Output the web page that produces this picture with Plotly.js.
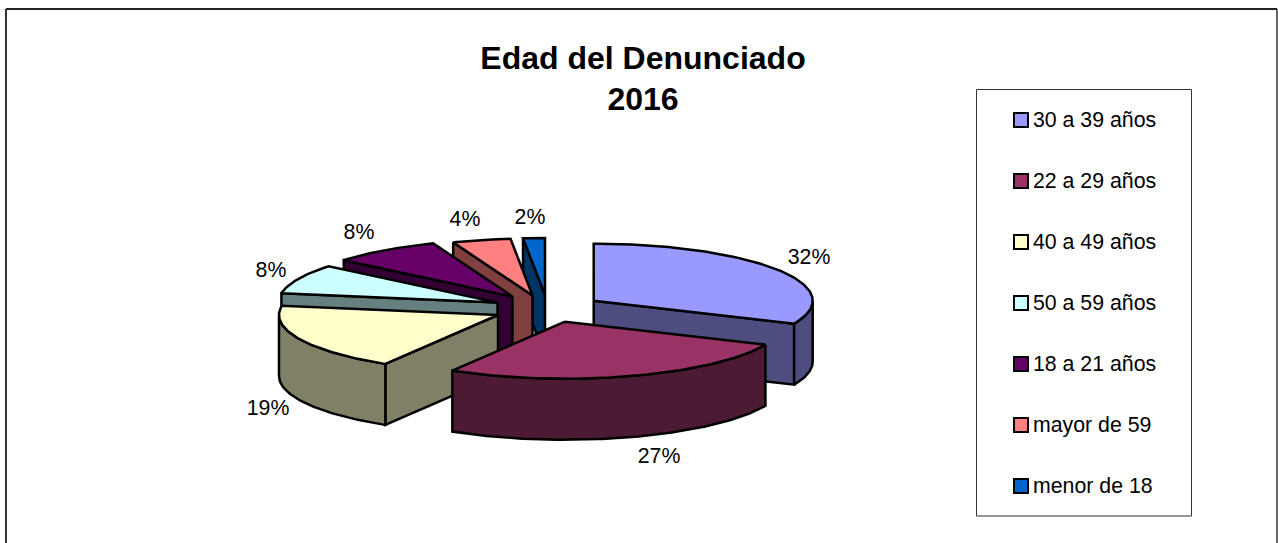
<!DOCTYPE html>
<html>
<head>
<meta charset="utf-8">
<script src="https://cdn.plot.ly/plotly-3.0.1.min.js"></script>
<style>html,body{margin:0;padding:0;background:#fff;overflow:hidden}#chart{width:1278px;height:543px}</style>
</head>
<body>
<div id="chart"></div>
<script>
// ---- data ----
const categories = ["30 a 39 años","22 a 29 años","40 a 49 años","50 a 59 años","18 a 21 años","mayor de 59","menor de 18"];
const shares = [31.6, 27.0, 19.0, 8.4, 8.1, 4.3, 1.6];
const topColors  = ["#9999FF","#993366","#FFFFCC","#CCFFFF","#660066","#FF8080","#0066CC"];
const sideColors = ["#4D4D80","#4D1A33","#808066","#668080","#330033","#804040","#003366"];

// ---- layout of the exploded 3-D pie (in pixel-scaled axis units) ----
const apexX = [593.7, 565, 498, 497.5, 512.5, 532.5, 545];
const apexY = [300.7, 321.7, 315, 302.6, 296.5, 295.5, 295];
const labelX = [809, 659, 268, 271, 359, 465, 530];
const labelY = [259, 458, 410, 272, 234, 221, 219];
const RX = 219, RY = 57, DEPTH = 61, EDGE = 2.5;
const legendMarkerX = 1021, legendTextX = 1033, legendTopY = 122, legendStep = 61;

const rad = d => d * Math.PI / 180;
const px = (i, a) => apexX[i] + RX * Math.sin(rad(a));
const py = (i, a) => apexY[i] - RY * Math.cos(rad(a));
function arc(i, a0, a1) {
  const xs = [], ys = [];
  const n = Math.max(2, Math.ceil(Math.abs(a1 - a0)));
  for (let k = 0; k <= n; k++) {
    const a = a0 + (a1 - a0) * k / n;
    xs.push(px(i, a)); ys.push(py(i, a));
  }
  return {xs, ys};
}
function poly(xs, ys, fill, name) {
  return {type:"scatter", mode:"lines", x:xs.concat(xs[0]), y:ys.concat(ys[0]), fill:"toself",
    fillcolor:fill, line:{color:"#000", width:EDGE}, hoverinfo:"skip", showlegend:false, name:name};
}

// angular extent of each slice
const starts = [], ends = [];
let acc = 0;
const total = shares.reduce((s, v) => s + v, 0);
shares.forEach(v => { starts.push(acc); acc += v / total * 360; ends.push(acc); });

function sliceTraces(i) {
  const out = [], a = starts[i], b = ends[i];
  const radial = ang => poly(
    [apexX[i], px(i, ang), px(i, ang), apexX[i]],
    [apexY[i], py(i, ang), py(i, ang) + DEPTH, apexY[i] + DEPTH],
    sideColors[i], categories[i] + " lado");
  if (a > 180 && a < 360) out.push(radial(a));
  if (b > 0 && b < 180) out.push(radial(b));
  const f0 = Math.max(a, 90), f1 = Math.min(b, 270);
  if (f1 > f0) {
    const r = arc(i, f0, f1);
    out.push(poly(r.xs.concat(r.xs.slice().reverse()),
                  r.ys.concat(r.ys.slice().reverse().map(v => v + DEPTH)),
                  sideColors[i], categories[i] + " borde"));
  }
  const t = arc(i, a, b);
  out.push(poly([apexX[i]].concat(t.xs), [apexY[i]].concat(t.ys), topColors[i], categories[i]));
  return out;
}

const traces = [];
[0, 6, 5, 4, 3, 2, 1].forEach(i => traces.push(...sliceTraces(i)));

// percentage labels
traces.push({type:"scatter", mode:"text", x:labelX, y:labelY,
  text:shares.map(v => Math.round(v) + "%"), textposition:"middle center",
  textfont:{family:"Liberation Sans, Arial, sans-serif", size:21.3, color:"#000"},
  hoverinfo:"skip", showlegend:false});

// legend: swatches and names
const legendYs = categories.map((c, i) => legendTopY + i * legendStep);
traces.push({type:"scatter", mode:"markers", x:categories.map(() => legendMarkerX), y:categories.map((c, i) => legendYs[i] - 2),
  marker:{symbol:"square", size:14, color:topColors, line:{color:"#000", width:2}},
  hoverinfo:"skip", showlegend:false});
traces.push({type:"scatter", mode:"text", x:categories.map(() => legendTextX), y:legendYs,
  text:categories, textposition:"middle right",
  textfont:{family:"Liberation Sans, Arial, sans-serif", size:21.3, color:"#000"},
  hoverinfo:"skip", showlegend:false});

const layout = {
  width:1278, height:543,
  margin:{l:0, r:0, t:0, b:0},
  paper_bgcolor:"#fff", plot_bgcolor:"#fff",
  showlegend:false,
  title:{text:"<b>Edad del Denunciado<br>2016</b>", x:643/1278, xanchor:"center", xref:"paper",
         y:1-68.5/543, yanchor:"top", yref:"paper",
         font:{family:"Liberation Sans, Arial, sans-serif", size:32, color:"#000"}},
  xaxis:{range:[0,1278], visible:false, fixedrange:true},
  yaxis:{range:[543,0], visible:false, fixedrange:true},
  shapes:[
    {type:"line", x0:6, x1:1277, y0:9, y1:9, line:{color:"#222", width:2}},
    {type:"line", x0:6, x1:6, y0:9, y1:543, line:{color:"#333", width:2}},
    {type:"line", x0:1277, x1:1277, y0:9, y1:543, line:{color:"#333", width:1.5}},
    {type:"rect", x0:976.5, x1:1191.5, y0:89.5, y1:516, line:{color:"#333", width:1}, fillcolor:"rgba(0,0,0,0)"}
  ]
};
Plotly.newPlot("chart", traces, layout, {displayModeBar:false, staticPlot:true});
</script>
</body>
</html>
